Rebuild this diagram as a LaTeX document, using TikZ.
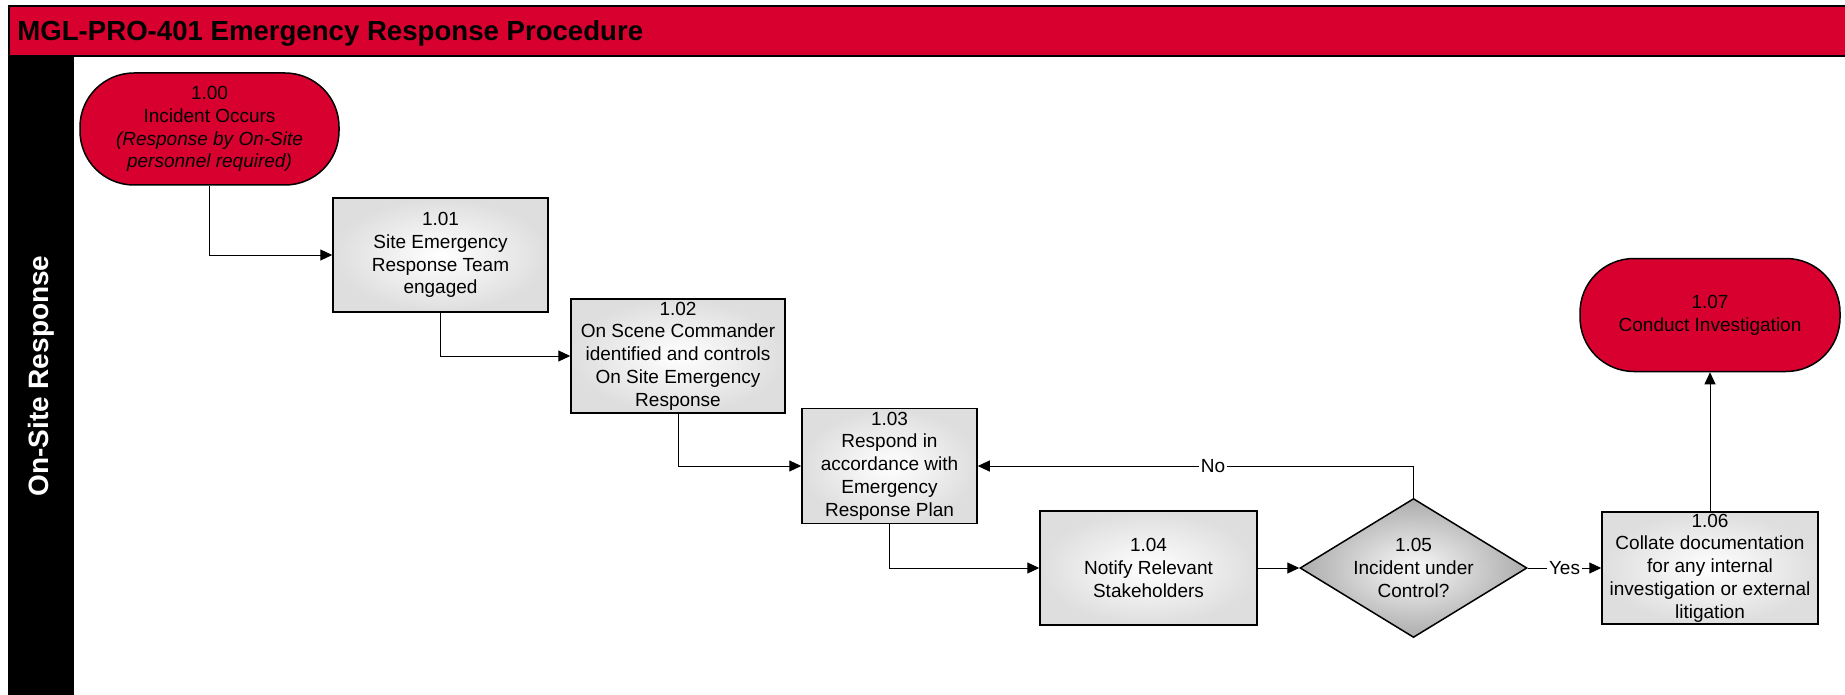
\documentclass[tikz,border=0pt]{standalone}
\usepackage{fontspec}
\setmainfont{Liberation Sans}
\usepackage{xcolor}
\usepackage{tikz}
\usetikzlibrary{positioning}
\usetikzlibrary{arrows.meta}
\usetikzlibrary{shapes.geometric}

\definecolor{mglred}{RGB}{216,0,46}
\definecolor{boxedge}{RGB}{222,222,222}
\definecolor{diaedge}{RGB}{172,172,172}

\newcommand{\boxfont}{\fontsize{9.5pt}{11.4pt}\selectfont}
\newcommand{\headfont}{\bfseries\fontsize{13.8pt}{16pt}\selectfont}

\tikzset{
  procbox/.style={rectangle, draw=black, line width=0.75pt, inner color=white, outer color=boxedge, align=center, font=\boxfont, inner sep=0pt},
  termbox/.style={rectangle, rounded corners=27pt, draw=black, line width=0.75pt, fill=mglred, align=center, font=\boxfont, inner sep=0pt},
  decbox/.style={diamond, draw=black, line width=0.75pt, inner color=gray!5, outer color=diaedge, align=center, font=\boxfont, inner sep=0pt, shape aspect=1.63},
  flow/.style={draw, line width=0.5pt, -{Triangle[length=6pt,width=5.5pt]}},
  flowlabel/.style={fill=white, inner sep=0.8pt, font=\boxfont}
}

\begin{document}
\begin{tikzpicture}[x=0.5pt, y=-0.5pt]
  \useasboundingbox (0,0) rectangle (1845,695);
  \clip (0,0) rectangle (1845,695);

  % Header band and swimlane strip
  \draw[line width=1pt, fill=mglred] (9,6) rectangle (1860,56.5);
  \draw[line width=1pt, fill=black] (9,56.5) rectangle (73,710);
  \node[anchor=base west, inner sep=0pt, font=\headfont] (title) at (17,41) {MGL-PRO-401 Emergency Response Procedure};
  \node[rotate=90, text=white, font=\bfseries\fontsize{14pt}{16pt}\selectfont] (lane) at (41,376) {On-Site Response};

  % Procedure steps
  \node[termbox, minimum width=129.5pt, minimum height=56pt] (n100) at (209.5,129) {1.00\\Incident Occurs\\\textit{(Response by On-Site}\\\textit{personnel required)}};
  \node[procbox, minimum width=107.5pt, minimum height=57pt] (n101) at (440.5,255) {1.01\\Site Emergency\\Response Team\\engaged};
  \node[procbox, minimum width=107pt, minimum height=57pt] (n102) at (678,356) {1.02\\On Scene Commander\\identified and controls\\On Site Emergency\\Response};
  \node[procbox, minimum width=87.5pt, minimum height=57.5pt] (n103) at (889.5,466) {1.03\\Respond in\\accordance with\\Emergency\\Response Plan};
  \node[procbox, minimum width=108.5pt, minimum height=57pt] (n104) at (1148.5,568) {1.04\\Notify Relevant\\Stakeholders};
  \node[decbox, minimum width=113.5pt, minimum height=69.5pt] (n105) at (1413.5,568) {1.05\\Incident under\\Control?};
  \node[procbox, minimum width=108pt, minimum height=56pt] (n106) at (1710,568) {1.06\\Collate documentation\\for any internal\\investigation or external\\litigation};
  \node[termbox, minimum width=130pt, minimum height=56.5pt] (n107) at (1710,315) {1.07\\Conduct Investigation};

  % Connectors
  \draw[flow] (n100.south) |- (n101.west);
  \draw[flow] (n101.south) |- (n102.west);
  \draw[flow] (n102.south) |- (n103.west);
  \draw[flow] (n103.south) |- (n104.west);
  \draw[flow] (n104.east) -- (n105.west);
  \draw[flow] (n105.east) -- node[flowlabel] (yes) {Yes} (n106.west);
  \draw[flow] (n105.north) |- node[flowlabel, pos=0.73] (no) {No} (n103.east);
  \draw[flow] (n106.north) -- (n107.south);
\end{tikzpicture}
\end{document}
